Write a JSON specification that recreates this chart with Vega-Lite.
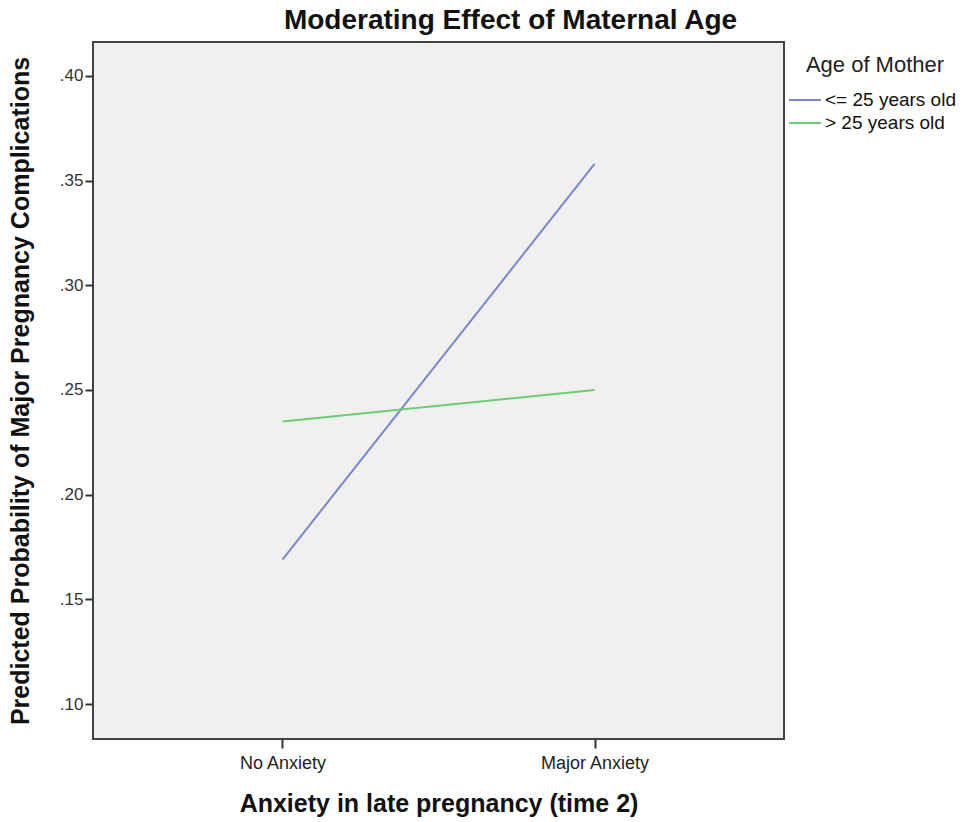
{
  "$schema": "https://vega.github.io/schema/vega-lite/v6.json",
  "width": 691,
  "height": 697,
  "autosize": {"type": "none"},
  "padding": {"left": 93, "top": 42, "right": 179, "bottom": 83},
  "background": "white",
  "title": {
    "text": "Moderating Effect of Maternal Age",
    "font": "Liberation Sans",
    "fontSize": 28,
    "fontWeight": "bold",
    "color": "#111111",
    "anchor": "middle",
    "dx": 72,
    "offset": 7
  },
  "data": {
    "values": [
      {"anxiety": "No Anxiety", "age": "<= 25 years old", "prob": 0.169},
      {"anxiety": "Major Anxiety", "age": "<= 25 years old", "prob": 0.358},
      {"anxiety": "No Anxiety", "age": "> 25 years old", "prob": 0.235},
      {"anxiety": "Major Anxiety", "age": "> 25 years old", "prob": 0.25}
    ]
  },
  "mark": {"type": "line", "strokeWidth": 2},
  "encoding": {
    "x": {
      "field": "anxiety",
      "type": "nominal",
      "sort": ["No Anxiety", "Major Anxiety"],
      "scale": {"type": "point", "padding": 0.607},
      "axis": {
        "title": "Anxiety in late pregnancy (time 2)",
        "titleFont": "Liberation Sans",
        "titleFontSize": 25,
        "titleFontWeight": "bold",
        "titleColor": "#111111",
        "titlePadding": 19,
        "labelFont": "Liberation Sans",
        "labelFontSize": 18,
        "labelColor": "#222222",
        "labelPadding": 6,
        "labelAngle": 0,
        "domain": false,
        "tickSize": 9,
        "tickWidth": 2,
        "tickColor": "#333333",
        "grid": false
      }
    },
    "y": {
      "field": "prob",
      "type": "quantitative",
      "scale": {"domain": [0.0833, 0.4162], "nice": false, "zero": false},
      "axis": {
        "title": "Predicted Probability of Major Pregnancy Complications",
        "titleFont": "Liberation Sans",
        "titleFontSize": 25,
        "titleFontWeight": "bold",
        "titleColor": "#111111",
        "titlePadding": 26,
        "values": [0.1, 0.15, 0.2, 0.25, 0.3, 0.35, 0.4],
        "labelExpr": "replace(format(datum.value, '.2f'), '0.', '.')",
        "labelFont": "Liberation Sans",
        "labelFontSize": 17,
        "labelColor": "#333333",
        "labelPadding": 2,
        "domain": false,
        "tickSize": 8,
        "tickWidth": 2,
        "tickColor": "#333333",
        "grid": false
      }
    },
    "color": {
      "field": "age",
      "type": "nominal",
      "scale": {"domain": ["<= 25 years old", "> 25 years old"], "range": ["#7b86d0", "#6ccd75"]},
      "legend": {
        "title": "Age of Mother",
        "orient": "none",
        "legendX": 701,
        "legendY": 13,
        "titleAnchor": "middle",
        "titleFont": "Liberation Sans",
        "titleFontSize": 22,
        "titleFontWeight": "normal",
        "titleColor": "#222222",
        "titlePadding": 12,
        "labelFont": "Liberation Sans",
        "labelFontSize": 19,
        "labelColor": "#111111",
        "labelOffset": 9,
        "symbolType": "M-1.6,0H1.6",
        "symbolSize": 400,
        "symbolStrokeWidth": 2,
        "rowPadding": 2
      }
    }
  },
  "config": {
    "view": {"fill": "#f0f0f0", "stroke": "#444444", "strokeWidth": 2}
  }
}
